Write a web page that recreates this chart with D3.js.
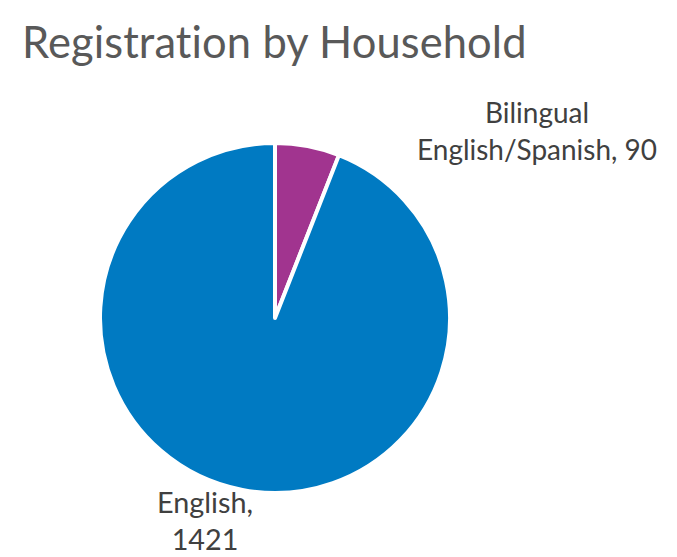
<!DOCTYPE html>
<html><head><meta charset="utf-8">
<script src="https://cdn.jsdelivr.net/npm/d3@7"></script>
<style>body{margin:0;background:#fff}svg{display:block}text{font-variant-ligatures:none;font-feature-settings:"liga" 0,"clig" 0,"dlig" 0}</style>
</head><body>
<svg id="c" width="677" height="557"></svg>
<script>
const categories = ["Bilingual English/Spanish", "English"];
const values = [90, 1421];
const labelLines = [["Bilingual", "English/Spanish, 90"], ["English,", "1421"]];
const colors = ["#A1348F", "#007AC2"];
const title = "Registration by Household";

const svg = d3.select("#c");
const font = "Lato, 'Open Sans', sans-serif";

function fitText(sel, targetW) {
  const w = sel.node().getComputedTextLength();
  const fs = parseFloat(sel.attr("font-size"));
  sel.attr("font-size", fs * targetW / w);
}

const t = svg.append("text").attr("x", 22).attr("y", 58)
  .attr("font-family", font).attr("font-size", 40).attr("fill", "#595959")
  .attr("letter-spacing", 0.1).text(title);
fitText(t, 505);

const cx = 275, cy = 318, r = 175;
const pie = d3.pie().sort(null).value(d => d)(values);
const arc = d3.arc().innerRadius(0).outerRadius(r);
const g = svg.append("g").attr("transform", `translate(${cx},${cy})`);
g.selectAll("path").data(pie).join("path")
  .attr("d", arc).attr("fill", (d, i) => colors[i])
  .attr("stroke", "#fff").attr("stroke-width", 4).attr("stroke-linejoin", "round");

const labelPos = [{x: 537, y: [123, 160], w: 240}, {x: 205, y: [513, 550], w: 96}];
labelLines.forEach((lines, i) => {
  const p = labelPos[i];
  const txt = svg.append("text").attr("text-anchor", "middle")
    .attr("font-family", font).attr("font-size", 28).attr("fill", "#404040");
  lines.forEach((l, j) => txt.append("tspan").attr("x", p.x).attr("y", p.y[j]).text(l));
  const widths = txt.selectAll("tspan").nodes().map(n => n.getComputedTextLength());
  const maxW = Math.max(...widths);
  txt.attr("font-size", 28 * p.w / maxW);
});
</script>
</body></html>
